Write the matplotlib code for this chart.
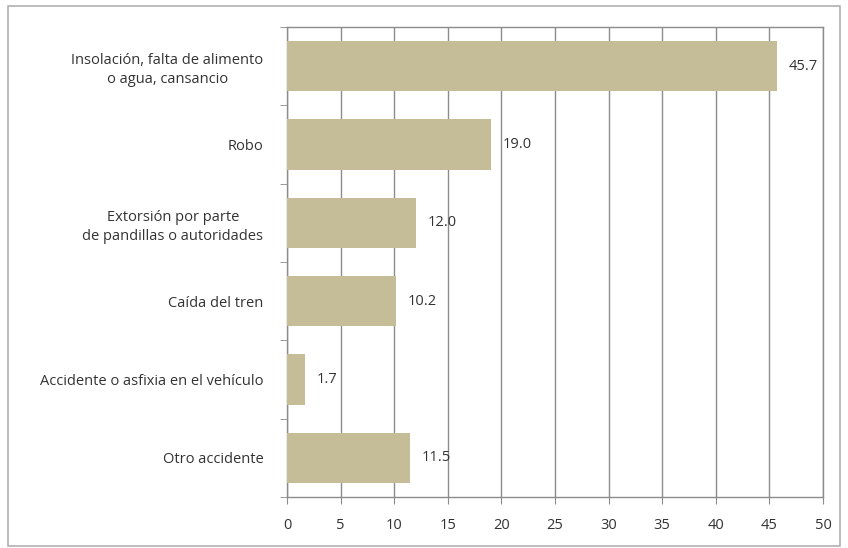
import matplotlib.pyplot as plt
from matplotlib.patches import Rectangle
import numpy as np

categories = ['Insolación, falta de alimento\no agua, cansancio',
              'Robo',
              'Extorsión por parte\nde pandillas o autoridades',
              'Caída del tren',
              'Accidente o asfixia en el vehículo',
              'Otro accidente']
values = [45.7, 19.0, 12.0, 10.2, 1.7, 11.5]
xticks = [0, 5, 10, 15, 20, 25, 30, 35, 40, 45, 50]

BAR_COLOR = '#c4bd97'
GRID_COLOR = '#8c8c8c'
TEXT_COLOR = '#333333'
FS = 10.5

plt.rcParams['font.family'] = ['Open Sans', 'DejaVu Sans']

fig = plt.figure(figsize=(8.48, 5.48), dpi=100)
ax = fig.add_axes([287/848, 1-497/548, (823-287)/848, (497-27)/548])

# outer frame around the whole chart
fig.patches.append(Rectangle((8/848, 2/548), 832/848, 540/548, transform=fig.transFigure,
                             fill=False, edgecolor='#b0b0b0', linewidth=1.2))

y = np.arange(len(categories))
ax.barh(y, values, height=0.64, color=BAR_COLOR, zorder=3)

for yi, v in zip(y, values):
    ax.text(v + 1.1, yi, '{:.1f}'.format(v), va='center', ha='left',
            fontsize=FS, color=TEXT_COLOR, zorder=4)

ax.set_xlim(0, 50)
ax.set_ylim(len(categories) - 0.5, -0.5)
ax.set_xticks(xticks)
ax.set_xticklabels([str(t) for t in xticks], fontsize=FS, color=TEXT_COLOR)
ax.set_yticks(y)
ax.set_yticklabels(categories, fontsize=FS, color=TEXT_COLOR,
                   multialignment='center', linespacing=1.35)
ax.tick_params(axis='y', length=0, pad=17)
ax.set_yticks(np.arange(len(categories) + 1) - 0.5, minor=True)
ax.tick_params(axis='y', which='minor', length=5, color=GRID_COLOR)
ax.tick_params(axis='x', length=5, color=GRID_COLOR, pad=10)

ax.grid(axis='x', color=GRID_COLOR, linewidth=1.0, zorder=0)
for s in ax.spines.values():
    s.set_color(GRID_COLOR)
    s.set_linewidth(1.0)

fig.savefig('out.png', dpi=100)
